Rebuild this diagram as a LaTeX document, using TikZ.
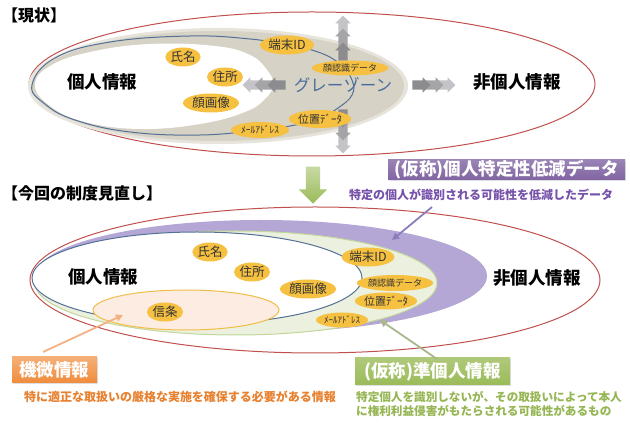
\documentclass[tikz,border=0pt]{standalone}
\usepackage{fontspec}
\setmainfont{Noto Sans CJK JP}
\usetikzlibrary{shapes.arrows,shapes.geometric,arrows.meta,shadows}
\definecolor{redline}{RGB}{192,80,77}
\definecolor{blueline}{RGB}{84,112,150}
\definecolor{tagfill}{RGB}{246,192,64}
\definecolor{grayzone}{RGB}{214,210,197}
\definecolor{gztext}{RGB}{74,110,156}
\definecolor{purp}{RGB}{128,100,162}
\definecolor{purptext}{RGB}{118,82,170}
\definecolor{purparrow}{RGB}{140,124,186}
\definecolor{lav}{RGB}{180,167,214}
\definecolor{lgreen}{RGB}{235,241,222}
\definecolor{lgreenb}{RGB}{195,214,155}
\definecolor{grn}{RGB}{155,187,89}
\definecolor{grntext}{RGB}{150,182,84}
\definecolor{grnarrow}{RGB}{168,184,138}
\definecolor{orng}{RGB}{240,140,60}
\definecolor{orngtext}{RGB}{232,128,46}
\definecolor{orngarrow}{RGB}{244,177,131}
\definecolor{peach}{RGB}{252,236,225}
\definecolor{gold}{RGB}{240,190,70}
\definecolor{gA}{RGB}{140,140,143}
\definecolor{gB}{RGB}{165,165,168}
\definecolor{gC}{RGB}{195,195,200}
\begin{document}
\begin{tikzpicture}[x=1pt,y=-1pt,
  itag/.style={ellipse, fill=tagfill, inner sep=0pt, minimum width=#1, minimum height=19pt, text=black!80, font=\fontsize{12.5}{13}\selectfont},
  itag/.default=36pt,
  biglabel/.style={inner sep=0pt, font=\bfseries\fontsize{17.5}{18}\selectfont},
  heading/.style={inner sep=0pt, anchor=west, font=\bfseries\fontsize{16}{17}\selectfont},
  garrow/.style={single arrow, draw=none, fill=#1, minimum height=18pt, minimum width=15pt, single arrow head extend=3pt, inner xsep=0pt, inner ysep=4.5pt},
  garrowv/.style={single arrow, draw=none, fill=#1, minimum height=18pt, minimum width=15pt, single arrow head extend=3pt, inner xsep=4.5pt, inner ysep=0pt},
  tbox/.style={rectangle, inner sep=0pt, text=white, font=\bfseries\fontsize{17.5}{18}\selectfont, drop shadow={opacity=0.25, shadow xshift=1.2pt, shadow yshift=-1.2pt}},
  note/.style={inner sep=0pt, font=\bfseries\fontsize{12}{14}\selectfont},
  conn/.style={line width=1.8pt, -{Triangle[length=7pt,width=7pt]}}
]
\useasboundingbox (0,0) rectangle (630,427);
\fill[white] (0,0) rectangle (630,427);

% ---------- top: current situation ----------
\node[heading] (h1) at (2,15) {【現状】};
\draw[redline, line width=1pt] (312,84) ellipse [x radius=283, y radius=72];
\fill[grayzone!60] (218,86) ellipse [x radius=190, y radius=58];
\fill[grayzone] (218,86) ellipse [x radius=186, y radius=55];
\fill[white] plot[smooth cycle, tension=0.7] coordinates {(35,85) (50,66) (90,52) (150,44) (215,46) (250,55) (267,70) (273,84) (266,98) (245,112) (200,124) (140,129) (85,122) (50,106)};
\draw[blueline, line width=1pt] plot[smooth cycle, tension=0.7] coordinates {(32,85) (55,58) (110,42) (190,36) (250,39) (287,45) (318,52) (340,64) (352,80) (352,95) (338,108) (318,119) (290,126) (260,130) (200,135) (130,132) (75,120) (45,104)};

% gray arrows
\node[garrow=gC, shape border rotate=180] (gl3) at (254,85) {};
\node[garrow=gB, shape border rotate=180] (gl2) at (266,85) {};
\node[garrow=gA, shape border rotate=180] (gl1) at (279,85) {};
\node[garrow=gC] (gr3) at (444,85) {};
\node[garrow=gB] (gr2) at (432,85) {};
\node[garrow=gA] (gr1) at (419,85) {};
\node[garrowv=gC, shape border rotate=90] (gu3) at (343,27) {};
\node[garrowv=gB, shape border rotate=90] (gu2) at (343,40) {};
\node[garrowv=gA, shape border rotate=90] (gu1) at (343,54) {};
\node[garrowv=gC, shape border rotate=270] (gd3) at (343,142) {};
\node[garrowv=gB, shape border rotate=270] (gd2) at (343,129) {};
\node[garrowv=gA, shape border rotate=270] (gd1) at (343,116) {};

% tags top
\node[itag=34pt] (a1) at (183,57) {氏名};
\node[itag=36pt] (a2) at (225,77) {住所};
\node[itag=56pt] (a3) at (211,103) {顔画像};
\node[itag=54pt] (a4) at (287,45) {端末ID};
\node[itag=60pt, minimum height=15pt, font=\fontsize{9}{9}\selectfont] (a5) at (350,68) {顔認識データ};
\node[itag=60pt, minimum height=18pt, font=\fontsize{11}{11}\selectfont] (a6) at (320,119) {位置ﾃﾞｰﾀ};
\node[itag=58pt, minimum height=16pt, font=\fontsize{9.5}{10}\selectfont] (a7) at (260,130) {ﾒｰﾙｱﾄﾞﾚｽ};

\node[biglabel] (p1) at (102,82) {個人情報};
\node[biglabel] (n1) at (517,82) {非個人情報};
\node[inner sep=0pt, text=gztext, font=\fontsize{16.5}{17}\selectfont] (gz) at (343,85) {グレーゾーン};

% ---------- middle ----------
\node[single arrow, draw=none, shape border rotate=270, minimum height=37pt, minimum width=28pt, single arrow head extend=7pt, inner xsep=7pt, inner ysep=0pt, top color=grn!55, bottom color=grn] (down) at (313,181.5) {};
\node[heading] (h2) at (2,193) {【今回の制度見直し】};

\node[tbox, minimum width=237pt, minimum height=20pt, top color=purp!80, bottom color=purp] (pbox) at (506.5,170) {(仮称)個人特定性低減データ};
\node[note, text=purptext] (psub) at (481,195) {特定の個人が識別される可能性を低減したデータ};

% ---------- bottom: revision ----------
\draw[redline, line width=1pt] (315,280) ellipse [x radius=285, y radius=73];
\fill[lav] (261,276) ellipse [x radius=226, y radius=56];
\filldraw[fill=lgreen, draw=lgreenb, line width=1pt] (236,283) ellipse [x radius=201, y radius=52];
\filldraw[fill=white, draw=blueline, line width=1pt] (197,278) ellipse [x radius=165, y radius=46];
\filldraw[fill=peach, draw=gold, line width=1pt] (186,310) ellipse [x radius=93, y radius=20];

\node[itag=34pt] (b1) at (210,252) {氏名};
\node[itag=36pt] (b2) at (252,272) {住所};
\node[itag=56pt] (b3) at (308,289) {顔画像};
\node[itag=36pt] (b4) at (165,312) {信条};
\node[itag=48pt] (b5) at (368,257) {端末ID};
\node[itag=62pt, minimum height=16pt, font=\fontsize{9}{9}\selectfont] (b6) at (395,283) {顔認識データ};
\node[itag=58pt, minimum height=17pt, font=\fontsize{11}{11}\selectfont] (b7) at (386,301) {位置ﾃﾞｰﾀ};
\node[itag=52pt, minimum height=15pt, font=\fontsize{9}{9}\selectfont] (b8) at (342,320) {ﾒｰﾙｱﾄﾞﾚｽ};

\node[biglabel] (p2) at (103,277) {個人情報};
\node[biglabel] (n2) at (537,278) {非個人情報};

% boxes and notes
\node[tbox, minimum width=85pt, minimum height=26pt, top color=orng!70, bottom color=orng] (kbox) at (54.5,370) {機微情報};
\node[note, text=orngtext] (knote) at (180,397) {特に適正な取扱いの厳格な実施を確保する必要がある情報};
\node[tbox, minimum width=155pt, minimum height=27pt, top color=grn!80, bottom color=grn] (gbox) at (432.5,371.5) {(仮称)準個人情報};
\node[note, text=grntext, align=left, font=\bfseries\fontsize{11.6}{14}\selectfont] (gnote) at (489,404) {特定個人を識別しないが、その取扱いによって本人\\に権利利益侵害がもたらされる可能性があるもの};

% connectors
\coordinate (ps) at (432,207);
\coordinate (pa) at (392,240);
\coordinate (ks) at (43,352);
\coordinate (ka) at (123,315);
\coordinate (gs) at (437,359);
\coordinate (ga) at (380,320);
\draw[conn, purparrow] (ps) -- (pa);
\draw[conn, orngarrow] (ks) -- (ka);
\draw[conn, grnarrow] (gs) -- (ga);
\end{tikzpicture}
\end{document}
